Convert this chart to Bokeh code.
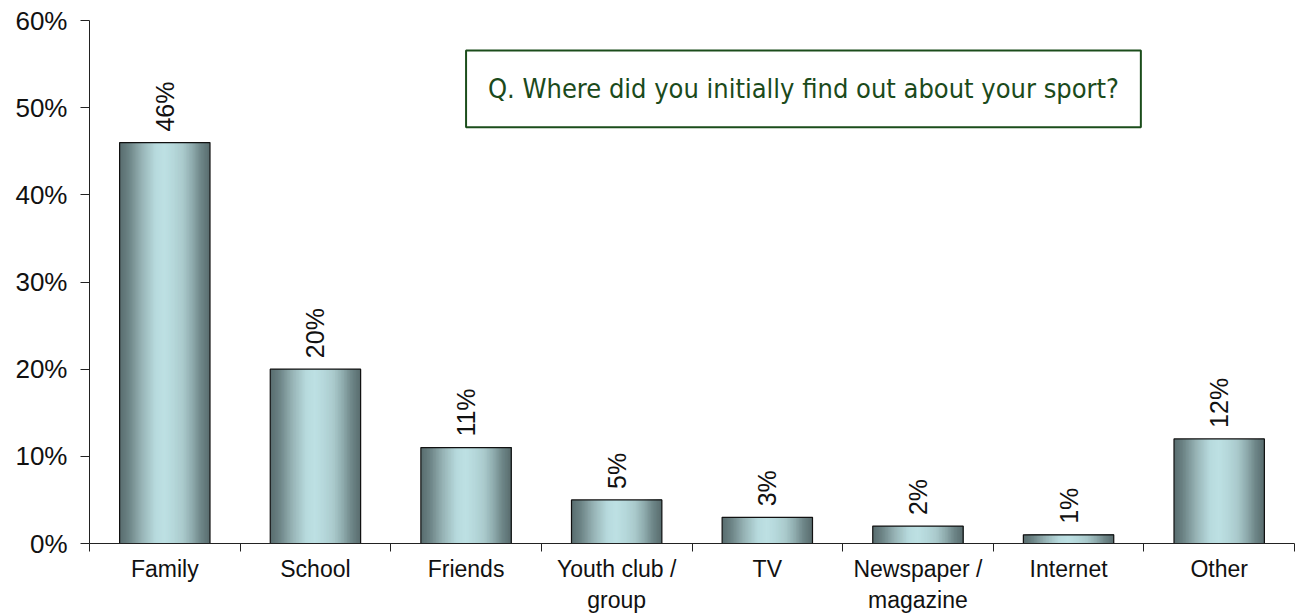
import math
from bokeh.plotting import figure
from bokeh.models import (ColumnDataSource, FixedTicker, PrintfTickFormatter,
                          Range1d, BoxAnnotation, Label)
from bokeh.core.properties import value
from bokeh.embed import file_html
from bokeh.resources import INLINE

categories = ["Family", "School", "Friends", "Youth club /\ngroup", "TV",
              "Newspaper /\nmagazine", "Internet", "Other"]
values = [46, 20, 11, 5, 3, 2, 1, 12]
value_labels = ["46%", "20%", "11%", "5%", "3%", "2%", "1%", "12%"]
y_ticks = [0, 10, 20, 30, 40, 50, 60]
question = "Q. Where did you initially find out about your sport?"

FONT = "Liberation Sans"
BAR_W = 0.6
# cylinder-like shading across the bar width
grad_stops = [(0.0, (0x58, 0x6c, 0x6e)), (0.1, (0x6c, 0x83, 0x85)),
              (0.25, (0x98, 0xb5, 0xb7)), (0.4, (0xb8, 0xdb, 0xde)),
              (0.5, (0xbd, 0xe0, 0xe3)), (0.6, (0xb5, 0xd7, 0xda)),
              (0.7, (0xaa, 0xca, 0xcc)), (0.8, (0x90, 0xad, 0xaf)),
              (0.9, (0x6e, 0x86, 0x88)), (1.0, (0x58, 0x6c, 0x6e))]


def grad_color(t):
    for (t0, c0), (t1, c1) in zip(grad_stops[:-1], grad_stops[1:]):
        if t0 <= t <= t1:
            f = (t - t0) / (t1 - t0)
            c = [round(a + (b - a) * f) for a, b in zip(c0, c1)]
            return "#%02x%02x%02x" % tuple(c)
    return "#%02x%02x%02x" % grad_stops[-1][1]


N = 60
xs = list(range(len(categories)))
sl, sr, st, sc = [], [], [], []
for i, v in zip(xs, values):
    for k in range(N):
        t = (k + 0.5) / N
        sl.append(i - BAR_W / 2 + k / N * BAR_W)
        sr.append(i + BAR_W / 2)
        st.append(v)
        sc.append(grad_color(t))
strips = ColumnDataSource(dict(left=sl, right=sr, top=st, color=sc))
bars = ColumnDataSource(dict(x=xs, top=values, label=value_labels))

p = figure(width=1298, height=616, output_backend="svg", toolbar_location=None,
           x_range=Range1d(-0.5, len(categories) - 0.5), y_range=Range1d(0, 60),
           min_border_left=89, min_border_right=4, min_border_top=20,
           min_border_bottom=73)
p.outline_line_color = None
p.grid.grid_line_color = None
p.background_fill_color = "white"

p.quad(left="left", right="right", top="top", bottom=0, source=strips,
       fill_color="color", line_color=None)
p.vbar(x="x", width=BAR_W, top="top", bottom=0, source=bars,
       fill_color=None, line_color="#111111", line_width=1.2)

p.text(x="x", y="top", text="label", source=bars, angle=math.pi / 2,
       text_align="left", text_baseline="middle", y_offset=-11,
       text_font=value(FONT), text_font_size="25px", text_color="#111111")

# y axis
p.yaxis.ticker = FixedTicker(ticks=y_ticks)
p.yaxis.formatter = PrintfTickFormatter(format="%d%%")
p.yaxis.major_tick_in = 0
p.yaxis.major_tick_out = 9
p.yaxis.minor_tick_line_color = None
p.yaxis.axis_line_color = "#222222"
p.yaxis.major_tick_line_color = "#222222"
p.yaxis.major_label_text_font = FONT
p.yaxis.major_label_text_font_size = "26px"
p.yaxis.major_label_text_color = "#111111"
p.yaxis.major_label_standoff = 13

# x axis: labels at centres, ticks at category boundaries
p.xaxis.ticker = FixedTicker(ticks=xs,
                             minor_ticks=[i - 0.5 for i in range(len(categories) + 1)])
p.xaxis.major_label_overrides = {i: c for i, c in zip(xs, categories)}
p.xaxis.major_tick_in = 0
p.xaxis.major_tick_out = 0
p.xaxis.minor_tick_in = 0
p.xaxis.minor_tick_out = 8
p.xaxis.axis_line_color = "#222222"
p.xaxis.minor_tick_line_color = "#222222"
p.xaxis.major_label_text_font = FONT
p.xaxis.major_label_text_font_size = "23px"
p.xaxis.major_label_text_color = "#111111"
p.xaxis.major_label_standoff = 4

# question box
p.add_layout(BoxAnnotation(left=2.0, right=6.48, bottom=47.75, top=56.55,
                           fill_color=None, fill_alpha=0, line_color="#1b4d1b",
                           line_alpha=1, line_width=2))
p.add_layout(Label(x=4.24, y=52.15, text=question, text_align="center",
                   text_baseline="middle",
                   text_font="'DejaVu Sans Condensed', 'Liberation Sans Narrow', 'Liberation Sans'",
                   text_font_size="27px", text_color="#1b4a1b"))

open("out.html", "w").write(file_html(p, INLINE))
